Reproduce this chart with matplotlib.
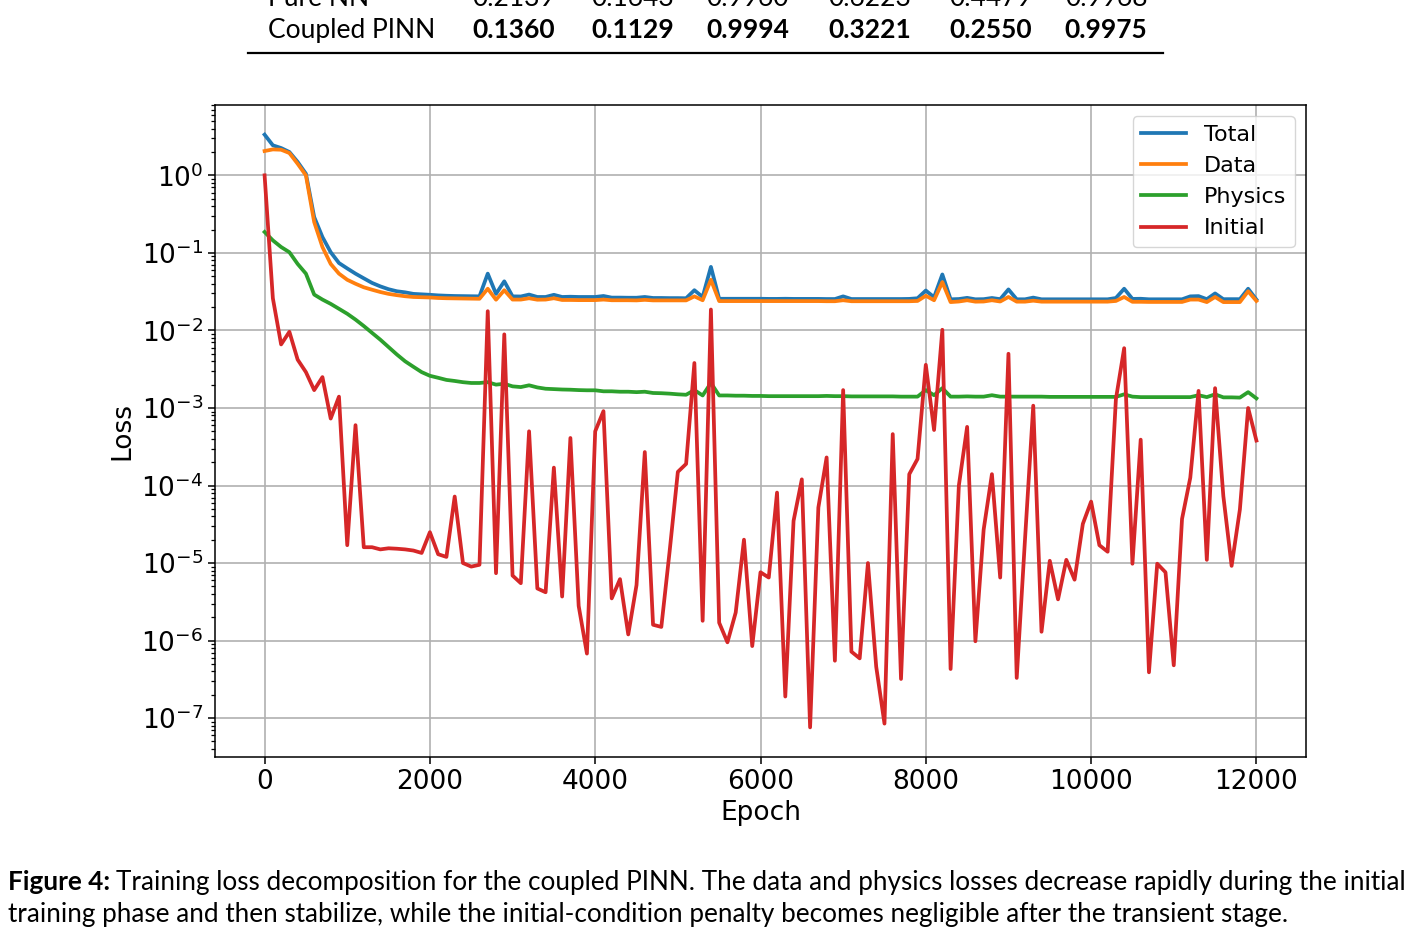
import numpy as np
import matplotlib
matplotlib.use("Agg")
import matplotlib.pyplot as plt

# epochs logged every 100 steps
epochs = np.arange(0, 12001, 100)

total_loss = [
    3.35, 2.44, 2.25, 2.0, 1.49, 1.05, 0.29, 0.16, 0.102, 0.074,
    0.063, 0.054, 0.047, 0.041, 0.037, 0.034, 0.032, 0.031, 0.0296, 0.0292,
    0.0288, 0.0283, 0.028, 0.0278, 0.0277, 0.0276, 0.0275, 0.054, 0.0296, 0.043,
    0.0275, 0.0274, 0.029, 0.027, 0.027, 0.0288, 0.027, 0.0272, 0.027, 0.027,
    0.027, 0.0278, 0.0265, 0.0265, 0.0264, 0.0264, 0.027, 0.0262, 0.0262, 0.0261,
    0.0261, 0.026, 0.033, 0.027, 0.066, 0.0256, 0.0256, 0.0256, 0.0256, 0.0256,
    0.0256, 0.0255, 0.0255, 0.0256, 0.0255, 0.0255, 0.0255, 0.0255, 0.0254, 0.0254,
    0.0275, 0.0254, 0.0254, 0.0254, 0.0254, 0.0254, 0.0254, 0.0254, 0.0255, 0.026,
    0.0327, 0.0268, 0.0527, 0.0252, 0.0254, 0.0263, 0.0252, 0.0253, 0.0262, 0.0253,
    0.0338, 0.0252, 0.0252, 0.0265, 0.0252, 0.0252, 0.0252, 0.0252, 0.0252, 0.0252,
    0.0252, 0.0252, 0.0252, 0.0262, 0.0345, 0.0255, 0.0256, 0.0252, 0.0252, 0.0252,
    0.0252, 0.0252, 0.0275, 0.0277, 0.0253, 0.030, 0.0253, 0.0253, 0.0253, 0.0345,
    0.025,
]

data_loss = [
    2.06, 2.16, 2.14, 1.94, 1.41, 1.0, 0.25, 0.119, 0.072, 0.054,
    0.045, 0.040, 0.036, 0.0335, 0.0313, 0.0296, 0.0285, 0.0276, 0.027, 0.0268,
    0.0266, 0.0262, 0.026, 0.0259, 0.0258, 0.0257, 0.0256, 0.0345, 0.0249, 0.033,
    0.025, 0.025, 0.026, 0.0249, 0.025, 0.026, 0.0247, 0.0247, 0.0246, 0.0246,
    0.0246, 0.025, 0.0245, 0.0245, 0.0245, 0.0244, 0.0248, 0.0244, 0.0244, 0.0244,
    0.0244, 0.0244, 0.0275, 0.0245, 0.045, 0.0239, 0.0239, 0.0239, 0.0239, 0.0239,
    0.0239, 0.0239, 0.0239, 0.0239, 0.0239, 0.0239, 0.0239, 0.0239, 0.0238, 0.0238,
    0.0245, 0.0238, 0.0238, 0.0238, 0.0238, 0.0238, 0.0238, 0.0238, 0.0238, 0.024,
    0.028, 0.0245, 0.042, 0.0232, 0.0236, 0.0245, 0.0235, 0.0236, 0.0245, 0.0236,
    0.027, 0.0235, 0.0235, 0.0242, 0.0235, 0.0235, 0.0235, 0.0235, 0.0235, 0.0235,
    0.0235, 0.0235, 0.0235, 0.024, 0.027, 0.0234, 0.0234, 0.0233, 0.0233, 0.0233,
    0.0233, 0.0233, 0.025, 0.025, 0.0232, 0.027, 0.0232, 0.0232, 0.0232, 0.032,
    0.024,
]

physics_loss = [
    0.186, 0.145, 0.119, 0.102, 0.072, 0.054, 0.029, 0.025, 0.022, 0.019,
    0.0164, 0.0138, 0.0114, 0.0093, 0.0076, 0.0061, 0.0049, 0.0040, 0.0034, 0.0029,
    0.0026, 0.00245, 0.0023, 0.00223, 0.00215, 0.0021, 0.0021, 0.00215, 0.0020, 0.00205,
    0.0019, 0.00186, 0.00196, 0.00184, 0.00177, 0.00175, 0.00173, 0.00172, 0.0017, 0.00169,
    0.00169, 0.00164, 0.00164, 0.00162, 0.00162, 0.0016, 0.00162, 0.00156, 0.00155, 0.00153,
    0.0015, 0.00148, 0.0017, 0.00145, 0.0021, 0.00145, 0.00145, 0.00144, 0.00144, 0.00143,
    0.00143, 0.00142, 0.00142, 0.00142, 0.00142, 0.00142, 0.00142, 0.00142, 0.00143, 0.00142,
    0.00142, 0.00141, 0.00141, 0.00141, 0.00141, 0.00141, 0.00141, 0.0014, 0.0014, 0.0014,
    0.0017, 0.00146, 0.0018, 0.0014, 0.0014, 0.00141, 0.0014, 0.0014, 0.00146, 0.0014,
    0.0014, 0.0014, 0.0014, 0.0014, 0.0014, 0.00139, 0.00139, 0.00139, 0.00139, 0.00139,
    0.00139, 0.00139, 0.00139, 0.00139, 0.0015, 0.0014, 0.00138, 0.00138, 0.00138, 0.00138,
    0.00138, 0.00138, 0.00138, 0.00146, 0.00138, 0.0015, 0.00137, 0.00137, 0.00136, 0.0016,
    0.00133,
]

initial_loss = [
    1.0, 2.6e-2, 6.6e-3, 9.6e-3, 4.2e-3, 2.9e-3, 1.7e-3, 2.5e-3, 7.3e-4, 1.4e-3,
    1.7e-5, 6.0e-4, 1.6e-5, 1.6e-5, 1.5e-5, 1.55e-5, 1.53e-5, 1.5e-5, 1.45e-5, 1.35e-5,
    2.5e-5, 1.3e-5, 1.2e-5, 7.2e-5, 1.0e-5, 9.0e-6, 9.5e-6, 1.77e-2, 7.4e-6, 8.9e-3,
    6.9e-6, 5.5e-6, 5.0e-4, 4.7e-6, 4.2e-6, 1.7e-4, 3.7e-6, 4.1e-4, 2.8e-6, 6.8e-7,
    5.0e-4, 9.1e-4, 3.5e-6, 6.2e-6, 1.2e-6, 5.2e-6, 2.7e-4, 1.6e-6, 1.5e-6, 1.4e-5,
    1.5e-4, 1.9e-4, 3.8e-3, 1.8e-6, 1.86e-2, 1.7e-6, 9.5e-7, 2.3e-6, 2.0e-5, 8.5e-7,
    7.6e-6, 6.5e-6, 8.1e-5, 1.9e-7, 3.5e-5, 1.2e-4, 7.6e-8, 5.2e-5, 2.3e-4, 5.5e-7,
    1.7e-3, 7.2e-7, 5.9e-7, 1.0e-5, 4.6e-7, 8.5e-8, 4.6e-4, 3.2e-7, 1.4e-4, 2.2e-4,
    3.6e-3, 5.2e-4, 1.02e-2, 4.3e-7, 1.0e-4, 5.7e-4, 9.8e-7, 2.7e-5, 1.4e-4, 6.5e-6,
    5.0e-3, 3.3e-7, 2.0e-5, 1.07e-3, 1.3e-6, 1.07e-5, 3.4e-6, 1.1e-5, 6.1e-6, 3.2e-5,
    6.2e-5, 1.7e-5, 1.4e-5, 1.3e-3, 5.9e-3, 9.8e-6, 3.9e-4, 3.9e-7, 9.8e-6, 7.6e-6,
    4.8e-7, 3.7e-5, 1.26e-4, 1.66e-3, 1.1e-5, 1.8e-3, 7.3e-5, 9.2e-6, 4.9e-5, 1.0e-3,
    3.8e-4,
]

# table rows shown above the figure (page context)
table_rows = ["Pure NN", "Coupled PINN"]
pure_nn_vals = ["0.2139", "0.1643", "0.9960", "0.6223", "0.4479", "0.9968"]
pinn_vals = ["0.1360", "0.1129", "0.9994", "0.3221", "0.2550", "0.9975"]
col_x = [514, 633, 748, 870, 991, 1106]

caption_bold = "Figure 4:"
caption_line1 = ("Training loss decomposition for the coupled PINN. The data and physics "
                 "losses decrease rapidly during the initial")
caption_line2 = ("training phase and then stabilize, while the initial-condition penalty "
                 "becomes negligible after the transient stage.")

W, H = 1413, 940
fig = plt.figure(figsize=(W / 100, H / 100), dpi=100)
page_font = "Lato"

# ---- table fragment at top ----
def fx(px):
    return px / W

def fy(py):
    return 1 - py / H

fig.text(fx(268), fy(6), table_rows[0], fontsize=19, family=page_font, va="baseline")
for x, v in zip(col_x, pure_nn_vals):
    fig.text(fx(x), fy(6), v, fontsize=19, family=page_font, ha="center", va="baseline")
fig.text(fx(268), fy(38), table_rows[1], fontsize=19, family=page_font, va="baseline")
for x, v in zip(col_x, pinn_vals):
    fig.text(fx(x), fy(38), v, fontsize=19, family=page_font, ha="center",
             va="baseline", fontweight="bold")
fig.add_artist(plt.Line2D([fx(248), fx(1163)], [fy(53), fy(53)], color="black", lw=1.6))

# ---- the chart ----
ax = fig.add_axes([215 / W, 1 - 757 / H, (1306 - 215) / W, (757 - 105) / H])
lw = 2.7
ax.plot(epochs, total_loss, color="#1f77b4", lw=lw, label="Total")
ax.plot(epochs, data_loss, color="#ff7f0e", lw=lw, label="Data")
ax.plot(epochs, physics_loss, color="#2ca02c", lw=lw, label="Physics")
ax.plot(epochs, initial_loss, color="#d62728", lw=lw, label="Initial")
ax.set_yscale("log")
ax.set_xlabel("Epoch", fontsize=19)
ax.set_ylabel("Loss", fontsize=19)
ax.tick_params(axis="both", which="major", labelsize=19, length=5, width=1.1)
ax.tick_params(axis="both", which="minor", length=3, width=0.9)
ax.grid(True, which="major", color="#b0b0b0", lw=1.2)
for sp in ax.spines.values():
    sp.set_linewidth(1.1)
ax.legend(loc="upper right", fontsize=16, handlelength=2.0)

# ---- caption ----
renderer = fig.canvas.get_renderer()
cap_size = 18.8
tb = fig.text(fx(8), fy(890), caption_bold, fontsize=cap_size, family=page_font,
              fontweight="bold", va="baseline")
bb = tb.get_window_extent(renderer=renderer)
fig.text((bb.x1 + 6) / W, fy(890), caption_line1, fontsize=cap_size, family=page_font,
         va="baseline")
fig.text(fx(8), fy(922), caption_line2, fontsize=cap_size, family=page_font, va="baseline")

fig.savefig("out.png", dpi=100)
